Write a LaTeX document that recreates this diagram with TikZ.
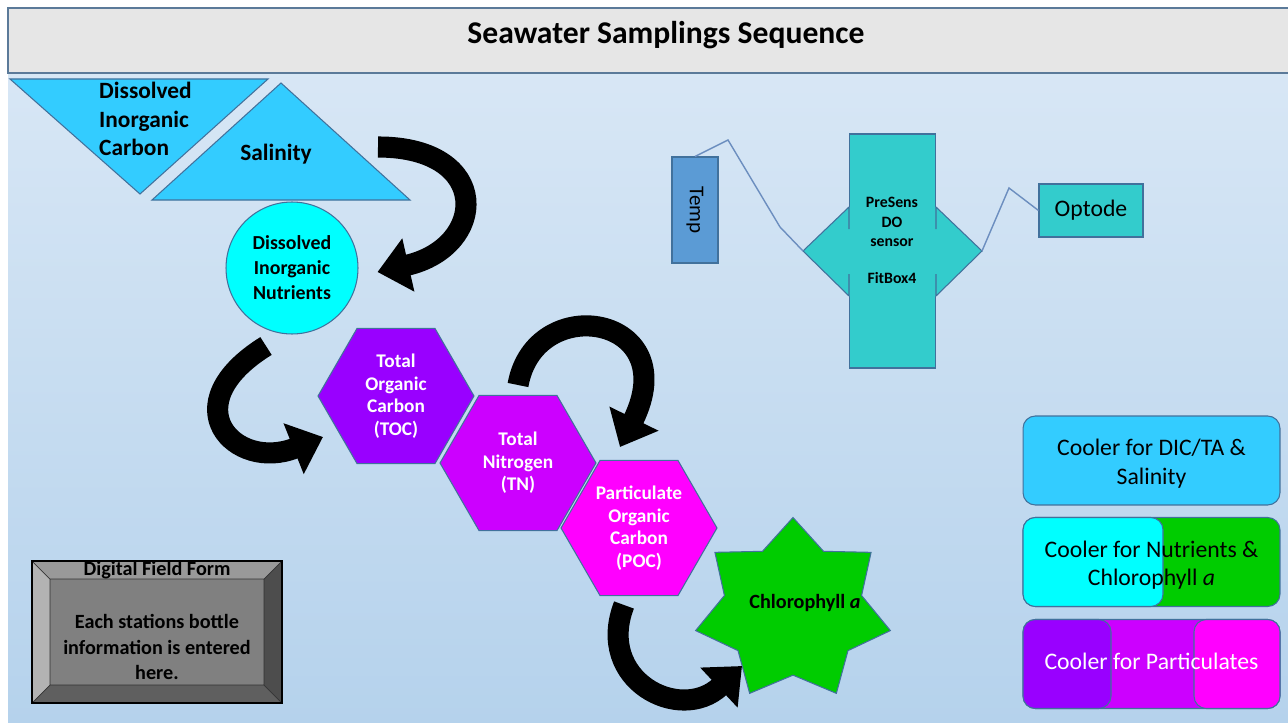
\documentclass[tikz,border=0pt]{standalone}
\usepackage{fontspec}
\setmainfont{Carlito}
\usetikzlibrary{shapes.geometric,arrows.meta,calc}

\definecolor{skyfill}{HTML}{33CCFF}
\definecolor{cyanfill}{HTML}{00FFFF}
\definecolor{tocfill}{HTML}{9900FF}
\definecolor{tnfill}{HTML}{CC00FF}
\definecolor{pocfill}{HTML}{FF00FF}
\definecolor{chlfill}{HTML}{00CC00}
\definecolor{tealfill}{HTML}{33CCCC}
\definecolor{tempfill}{HTML}{5B9BD5}
\definecolor{edgeblue}{HTML}{41719C}
\definecolor{wireblue}{HTML}{6C8EBF}
\definecolor{titlegray}{HTML}{E6E6E6}
\definecolor{titleedge}{HTML}{5B7A99}
\definecolor{bgtop}{HTML}{EEF4FB}
\definecolor{bgmid}{HTML}{B5D2EC}
\definecolor{bgbot}{HTML}{C9DEF1}
\definecolor{bevtop}{HTML}{999999}
\definecolor{bevleft}{HTML}{B3B3B3}
\definecolor{bevright}{HTML}{4D4D4D}
\definecolor{bevbot}{HTML}{5F5F5F}
\definecolor{bevface}{HTML}{808080}

\pgfdeclareverticalshading{seabg}{100bp}{color(0bp)=(bgbot); color(25bp)=(bgmid); color(100bp)=(bgtop)}

\tikzset{
  shape edge/.style={draw=edgeblue, line width=0.6pt},
  wire/.style={draw=wireblue, line width=0.8pt},
  blockarrow/.style={line width=12pt, -{Triangle[length=18pt,width=30pt]}},
  hexbox/.style={regular polygon, regular polygon sides=6, minimum size=3.12cm, inner sep=0pt, shape edge},
  hextext/.style={text=white, align=center, font=\bfseries\fontsize{11}{12.8}\selectfont},
  bigtext/.style={font=\bfseries\fontsize{13.3}{16.4}\selectfont},
  cooler/.style={shape edge, rounded corners=7pt, minimum width=5.14cm, minimum height=1.78cm},
  coolertext/.style={align=center, font=\fontsize{13.5}{16.2}\selectfont},
  formtext/.style={align=center, font=\bfseries\fontsize{11.5}{14.5}\selectfont},
}

\begin{document}
\begin{tikzpicture}[x=0.02cm,y=-0.02cm]
\useasboundingbox (0,0) rectangle (1288,723);

% background and title bar
\shade[shading=seabg] (8,8) rectangle (1288,723);
\draw[draw=titleedge, fill=titlegray, line width=0.6pt] (8,8) rectangle (1295,73);
\node[font=\bfseries\fontsize{18}{22}\selectfont] (title) at (666,35) {Seawater Samplings Sequence};

% DIC and salinity
\draw[shape edge, fill=skyfill] (10,79) -- (268,79) -- (140,194) -- cycle;
\draw[shape edge, fill=skyfill] (152,200) -- (410,200) -- (281,83) -- cycle;
\node[bigtext, align=left, anchor=west] (dic) at (93,119) {Dissolved\\Inorganic\\Carbon};
\node[bigtext] (sal) at (276,154) {Salinity};

% nutrients
\node[circle, shape edge, fill=cyanfill, minimum size=2.64cm] (din) at (292,268) {};
\node[align=center, font=\bfseries\fontsize{11.3}{14.2}\selectfont] (dintext) at (din) {Dissolved\\Inorganic\\Nutrients};

% organics
\node[hexbox, fill=tocfill] (toc) at (396,396) {};
\node[hexbox, fill=tnfill] (tn) at (518,463) {};
\node[hexbox, fill=pocfill] (poc) at (639,528) {};
\node[hextext] (toctext) at (toc) {Total\\Organic\\Carbon\\(TOC)};
\node[hextext] (tntext) at (tn) {Total\\Nitrogen\\(TN)};
\node[hextext] (poctext) at (poc) {Particulate\\Organic\\Carbon\\(POC)};

% chlorophyll
\coordinate (chlc) at (793,610);
\node[star, star points=7, star point ratio=1.42, minimum size=3.7cm, inner sep=0pt, xscale=1.08, shape edge, fill=chlfill] (chl) at (chlc) {};
\node[font=\bfseries\fontsize{11.5}{14}\selectfont] (chltext) at (805,603) {Chlorophyll \textit{a}};

% sequence arrows
\draw[blockarrow] ($(sal)+(102,-7)$) .. controls +(115,0) and +(110,-25) .. ($(din.east)+(19,4)$);
\draw[blockarrow] ($(din)+(-26,78)$) .. controls +(-95,59) and +(-88,35) .. ($(toc)+(-73,41)$);
\draw[blockarrow] ($(tn)+(0,-78)$) .. controls +(17,-95) and +(65,-132) .. ($(poc)+(-19,-81)$);
\draw[blockarrow] ($(poc)+(-15,77)$) .. controls +(-29,75) and +(-62,58) .. ($(chlc)+(-51,56)$);

% sensors
\node[shape edge, fill=tempfill, minimum width=0.92cm, minimum height=2.12cm] (temp) at (695,210) {};
\node[rotate=-90, font=\fontsize{12}{14}\selectfont] (templabel) at (temp) {Temp};
\node[shape edge, fill=tealfill, minimum width=1.72cm, minimum height=4.68cm] (presens) at (892.5,251) {};
\fill[tealfill] (803,251) -- (849,207) -- (936,207) -- (982,251) -- (936,296) -- (849,296) -- cycle;
\draw[shape edge] (849,207) -- (803,251) -- (849,296) (849,207) -- (849,229) (849,274) -- (849,296);
\draw[shape edge] (936,207) -- (982,251) -- (936,296) (936,207) -- (936,229) (936,274) -- (936,296);
\coordinate (wingl) at (803,251);
\coordinate (wingr) at (982,251);
\node[align=center, font=\bfseries\fontsize{9}{11}\selectfont] (dotext) at (892,222) {PreSens\\DO\\sensor};
\node[font=\bfseries\fontsize{9}{11}\selectfont] (fitbox) at (892,278) {FitBox4};
\node[shape edge, fill=tealfill, minimum width=2.08cm, minimum height=1.06cm, font=\fontsize{13.5}{16}\selectfont] (opt) at (1091,210.5) {Optode};
\draw[wire] (temp.north) -- (728,140) -- (780,227) -- (wingl);
\draw[wire] (wingr) -- (1009,188) -- (opt.west);

% coolers
\node[cooler, fill=skyfill] (cool1) at (1151.5,460.5) {};
\node[coolertext] (cool1text) at ($(cool1)+(0,3)$) {Cooler for DIC/TA \&\\Salinity};
\node[cooler, fill=chlfill] (cool2) at (1151.5,562) {};
\draw[shape edge, fill=cyanfill, rounded corners=7pt] (1023,517.5) rectangle (1163,606.5);
\node[coolertext] (cool2text) at ($(cool2)+(0,3)$) {Cooler for Nutrients \&\\Chlorophyll \textit{a}};
\node[cooler, fill=tnfill] (cool3) at (1151.5,664) {};
\draw[shape edge, fill=tocfill, rounded corners=7pt] (1023,619.5) rectangle (1111,708.5);
\draw[shape edge, fill=pocfill, rounded corners=7pt] (1194,619.5) rectangle (1280,708.5);
\node[coolertext, text=white] (cool3text) at ($(cool3)+(0,-3)$) {Cooler for Particulates};

% digital field form
\fill[bevtop] (32,561) -- (282,561) -- (264,579) -- (50,579) -- cycle;
\fill[bevleft] (32,561) -- (50,579) -- (50,685) -- (32,703) -- cycle;
\fill[bevright] (282,561) -- (282,703) -- (264,685) -- (264,579) -- cycle;
\fill[bevbot] (32,703) -- (50,685) -- (264,685) -- (282,703) -- cycle;
\fill[bevface] (50,579) rectangle (264,685);
\draw[black!80, line width=0.4pt] (32,561) -- (50,579) (282,561) -- (264,579) (32,703) -- (50,685) (282,703) -- (264,685) (50,579) rectangle (264,685);
\draw[black, line width=0.6pt] (32,561) rectangle (282,703);
\node[formtext] (formhead) at (157,570) {Digital Field Form};
\node[formtext] (formbody) at (157,647) {Each stations bottle\\information is entered\\here.};
\end{tikzpicture}
\end{document}
